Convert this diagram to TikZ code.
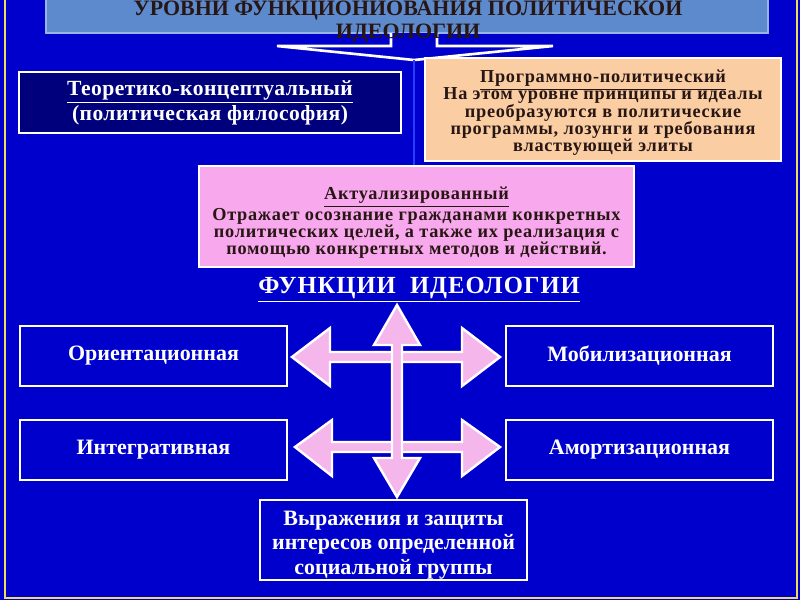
\documentclass[tikz,border=0pt]{standalone}
\usepackage{fontspec}
\setmainfont{Liberation Serif}
\newfontfamily\spacedfont[LetterSpace=4]{Liberation Serif}
\newfontfamily\widefont[LetterSpace=2]{Liberation Serif}
\newfontfamily\headfont[LetterSpace=4]{Liberation Serif}
\newcommand\tightlines{\lineskiplimit=-6pt\relax}
\definecolor{SlideBlue}{RGB}{0,0,204}
\definecolor{NavyBox}{RGB}{0,0,125}
\definecolor{TitleBlue}{RGB}{92,138,204}
\definecolor{TitleEdge}{RGB}{150,180,230}
\definecolor{Peach}{RGB}{250,206,162}
\definecolor{PinkBox}{RGB}{248,168,236}
\definecolor{CrossPink}{RGB}{245,182,236}
\definecolor{FrameYellow}{RGB}{240,220,90}
\definecolor{DarkText}{RGB}{40,22,20}
\definecolor{LineBlue}{RGB}{40,60,255}
\usetikzlibrary{calc}

\begin{document}
\begin{tikzpicture}[x=0.02cm, y=-0.02cm,
    levelbox/.style={draw=white, line width=1.2pt, inner sep=0pt, align=center},
    funcbox/.style={levelbox, fill=SlideBlue, minimum width=5.34cm, minimum height=1.2cm,
        text=white, font=\bfseries\fontsize{12.5}{14}\selectfont},
    crossarrow/.style={fill=CrossPink, draw=white, line width=1.4pt, line join=miter}]

    % slide
    \fill[SlideBlue] (0,0) rectangle (800,600);
    \useasboundingbox (0,0) rectangle (800,600);
    \draw[FrameYellow, line width=0.8pt] (5,-5) rectangle (797,598);

    % title
    \node[fill=TitleBlue, draw=TitleEdge, line width=0.8pt, minimum width=14.44cm, minimum height=1.06cm] (titlebox) at (407,6.5) {};
    \coordinate (tip) at (414,60);
    \draw[fill=SlideBlue, draw=white, line width=1.5pt, line join=miter]
        (391,33) -- (391,46) -- (277,46) -- (tip) -- (553,46) -- (437,46) -- (437,33);
    \node[align=center, text=DarkText, font=\bfseries\fontsize{12.5}{12.8}\selectfont] (title) at (408,20)
        {УРОВНИ ФУНКЦИОНИОВАНИЯ ПОЛИТИЧЕСКОЙ\\ИДЕОЛОГИИ};

    % levels
    \node[levelbox, fill=NavyBox, minimum width=7.64cm, minimum height=1.22cm, text=white,
        font=\widefont\bfseries\fontsize{12.3}{11.4}\selectfont] (teor) at (210,102.5)
        {\underline{Теоретико-концептуальный}\\(политическая философия)};
    \node[levelbox, fill=Peach, minimum width=7.12cm, minimum height=2.06cm, text=DarkText,
        font=\spacedfont\bfseries\fontsize{10.4}{9.8}\selectfont\tightlines] (prog) at (603,109.5)
        {\rule{0pt}{11pt}\underline{Программно-политический}\\На этом уровне принципы и идеалы\\преобразуются в политические\\программы, лозунги и требования\\властвующей элиты};
    \node[levelbox, fill=PinkBox, minimum width=8.7cm, minimum height=2.02cm, text=DarkText,
        font=\spacedfont\bfseries\fontsize{10.4}{9.8}\selectfont\tightlines] (akt) at (416.5,216.5)
        {\rule{0pt}{14.5pt}\underline{Актуализированный}\\[2pt]Отражает осознание гражданами конкретных\\политических целей, а также их реализация с\\помощью конкретных методов и действий.};
    \draw[LineBlue, line width=1.2pt] (tip) -- (tip |- akt.north);

    % functions
    \node[text=white, font=\headfont\bfseries\fontsize{14}{16}\selectfont] (funcs) at (419,290)
        {\underline{ФУНКЦИИ\ \ ИДЕОЛОГИИ}};
    \node[funcbox] (orient) at (153.5,356) {Ориентационная};
    \node[funcbox] (mobil) at (639.5,356) {Мобилизационная};
    \node[funcbox] (integr) at (153.5,450) {Интегративная};
    \node[funcbox] (amort) at (639.5,450) {Амортизационная};
    \node[funcbox, minimum height=1.6cm, font=\bfseries\fontsize{12.5}{14}\selectfont] (express) at (393.5,540)
        {\rule{0pt}{14pt}Выражения и защиты\\интересов определенной\\социальной группы};

    % cross of arrows
    \draw[crossarrow] (292,357) -- (330,328) -- (330,352) -- (462,352) -- (462,328) -- (500,357)
        -- (462,386) -- (462,362) -- (330,362) -- (330,386) -- cycle;
    \draw[crossarrow] (295,447) -- (332,420) -- (332,442) -- (462,442) -- (462,420) -- (500,447)
        -- (462,476) -- (462,452) -- (332,452) -- (332,476) -- cycle;
    \draw[crossarrow] (397,305) -- (420,345) -- (402,345) -- (402,458) -- (420,458) -- (397,497)
        -- (374,458) -- (392,458) -- (392,345) -- (374,345) -- cycle;
\end{tikzpicture}
\end{document}
